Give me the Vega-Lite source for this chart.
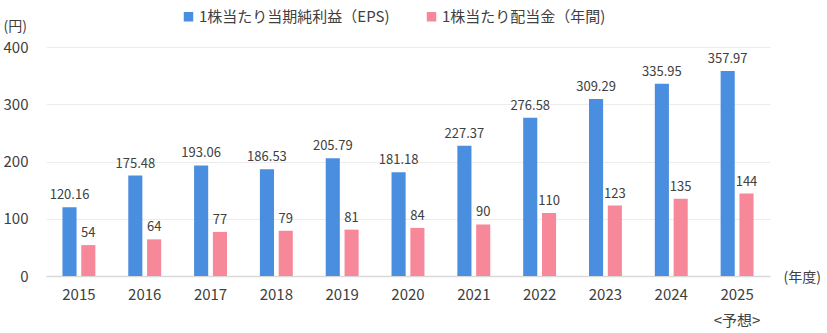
{
  "$schema": "https://vega.github.io/schema/vega-lite/v6.json",
  "width": 724,
  "height": 229,
  "autosize": {"type": "none"},
  "padding": {"left": 46, "top": 47, "right": 57, "bottom": 57},
  "background": "white",
  "config": {
    "font": "Noto Sans CJK JP",
    "view": {"stroke": null}
  },
  "data": {
    "values": [
      {"year": "2015", "series": "1株当たり当期純利益（EPS)", "value": 120.16},
      {"year": "2016", "series": "1株当たり当期純利益（EPS)", "value": 175.48},
      {"year": "2017", "series": "1株当たり当期純利益（EPS)", "value": 193.06},
      {"year": "2018", "series": "1株当たり当期純利益（EPS)", "value": 186.53},
      {"year": "2019", "series": "1株当たり当期純利益（EPS)", "value": 205.79},
      {"year": "2020", "series": "1株当たり当期純利益（EPS)", "value": 181.18},
      {"year": "2021", "series": "1株当たり当期純利益（EPS)", "value": 227.37},
      {"year": "2022", "series": "1株当たり当期純利益（EPS)", "value": 276.58},
      {"year": "2023", "series": "1株当たり当期純利益（EPS)", "value": 309.29},
      {"year": "2024", "series": "1株当たり当期純利益（EPS)", "value": 335.95},
      {"year": "2025", "series": "1株当たり当期純利益（EPS)", "value": 357.97},
      {"year": "2015", "series": "1株当たり配当金（年間)", "value": 54},
      {"year": "2016", "series": "1株当たり配当金（年間)", "value": 64},
      {"year": "2017", "series": "1株当たり配当金（年間)", "value": 77},
      {"year": "2018", "series": "1株当たり配当金（年間)", "value": 79},
      {"year": "2019", "series": "1株当たり配当金（年間)", "value": 81},
      {"year": "2020", "series": "1株当たり配当金（年間)", "value": 84},
      {"year": "2021", "series": "1株当たり配当金（年間)", "value": 90},
      {"year": "2022", "series": "1株当たり配当金（年間)", "value": 110},
      {"year": "2023", "series": "1株当たり配当金（年間)", "value": 123},
      {"year": "2024", "series": "1株当たり配当金（年間)", "value": 135},
      {"year": "2025", "series": "1株当たり配当金（年間)", "value": 144}
    ]
  },
  "encoding": {
    "x": {
      "field": "year",
      "type": "nominal",
      "scale": {"paddingInner": 0.5, "paddingOuter": 0.25},
      "axis": {
        "title": "(年度)",
        "titleAngle": 0,
        "titleAlign": "left",
        "titleBaseline": "middle",
        "titleX": 737,
        "titleY": 1,
        "titleFontSize": 14,
        "titleFontWeight": "normal",
        "titleColor": "#404040",
        "labelAngle": 0,
        "labelFontSize": 15,
        "labelColor": "#404040",
        "labelPadding": 11,
        "labelLineHeight": 26,
        "labelExpr": "datum.value == '2025' ? ['2025', '<予想>'] : datum.value",
        "ticks": false,
        "domainColor": "#d9d9d9",
        "domainWidth": 1.5,
        "grid": false
      }
    },
    "xOffset": {
      "field": "series",
      "type": "nominal",
      "scale": {"paddingInner": 0.25, "paddingOuter": 0}
    },
    "y": {
      "field": "value",
      "type": "quantitative",
      "scale": {"domain": [0, 400]},
      "axis": {
        "values": [0, 100, 200, 300, 400],
        "title": "(円)",
        "titleAngle": 0,
        "titleAlign": "left",
        "titleBaseline": "middle",
        "titleX": -43,
        "titleY": -21,
        "titleFontSize": 14,
        "titleFontWeight": "normal",
        "titleColor": "#404040",
        "labelFontSize": 15,
        "labelColor": "#404040",
        "labelPadding": 18,
        "ticks": false,
        "domain": false,
        "gridColor": "#ececec",
        "gridWidth": 1
      }
    },
    "color": {
      "field": "series",
      "type": "nominal",
      "scale": {
        "domain": ["1株当たり当期純利益（EPS)", "1株当たり配当金（年間)"],
        "range": ["#4a8ee0", "#f7889a"]
      },
      "legend": {
        "title": null,
        "orient": "none",
        "direction": "horizontal",
        "legendX": 135,
        "legendY": -38,
        "symbolType": "square",
        "symbolSize": 90,
        "symbolStrokeWidth": 0,
        "labelFontSize": 15,
        "labelColor": "#404040",
        "labelOffset": 3,
        "labelLimit": 400,
        "columnPadding": 34
      }
    }
  },
  "layer": [
    {"mark": {"type": "bar"}},
    {
      "mark": {"type": "text", "baseline": "bottom", "dy": -5, "fontSize": 13, "color": "#404040"},
      "encoding": {
        "text": {"field": "value", "type": "nominal"},
        "color": {"value": "#404040"}
      }
    }
  ]
}
